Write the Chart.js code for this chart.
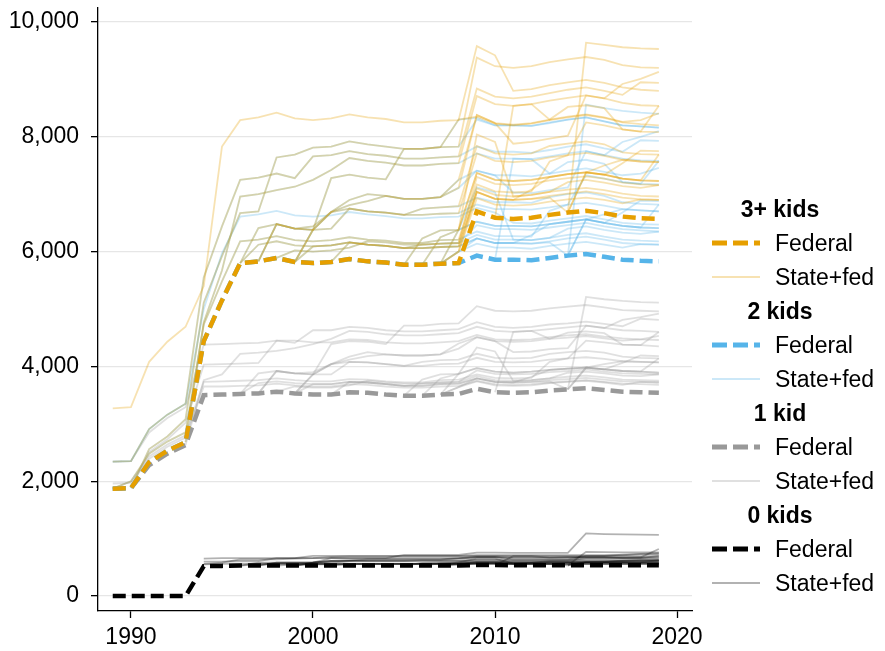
<!DOCTYPE html>
<html>
<head>
<meta charset="utf-8">
<script src="https://cdn.jsdelivr.net/npm/chart.js@4.4.1/dist/chart.umd.min.js"></script>
<style>
  body { margin: 0; background: #fff; }
  #wrap { position: relative; width: 885px; height: 651px; font-family: "Liberation Sans", Arial, Helvetica, sans-serif; }
  #chart { position: absolute; left: 0; top: 0; }
  .legend { position: absolute; left: 700px; top: 192px; width: 185px; }
  .row { height: 34px; display: flex; align-items: center; font-size: 23px; color: #000; }
  .head { justify-content: center; width: 160px; font-weight: bold; }
  .row svg { margin-left: 12px; margin-right: 15px; }
</style>
</head>
<body>
<div id="wrap">
  <canvas id="chart" width="885" height="651"></canvas>
  <div class="legend" id="legend"></div>
</div>
<script>
const _ = null;

const years = [1989,1990,1991,1992,1993,1994,1995,1996,1997,1998,1999,2000,2001,2002,2003,2004,
  2005,2006,2007,2008,2009,2010,2011,2012,2013,2014,2015,2016,2017,2018,2019];
const yTicks = [0, 2000, 4000, 6000, 8000, 10000];
const xTicks = [1990, 2000, 2010, 2020];

// federal max credit (2019 dollars)
const fed3 = [1870,1880,2330,2530,2680, 4440,5150,5800,5830,5890, 5820,5800,5820,5870,5830, 5810,5770,5770,5790,5800, 6700,6590,6570,6590,6640, 6680,6710,6670,6610,6580, 6570];
const fed2 = [1870,1880,2330,2530,2680, 4440,5150,5800,5830,5890, 5820,5800,5820,5870,5830, 5810,5770,5770,5790,5800, 5930,5860,5860,5850,5890, 5930,5960,5910,5860,5840, 5830];
const fed1 = [1870,1880,2280,2480,2630, 3500,3510,3520,3530,3560, 3530,3510,3510,3550,3540, 3510,3490,3490,3510,3520, 3610,3550,3540,3550,3580, 3600,3620,3590,3560,3550, 3540];
const fed0 = [0,0,0,0,0, 520,525,530,530,530, 530,530,530,530,530, 530,530,530,530,530, 540,540,535,535,535, 535,535,535,535,535, 535];

const states = ['WI','VT','MN','NY','MA','KS','DC','NJ','IA','OR','IN','IL','NE','MI','NM','CT','CO','LA','NC','RI','OK','MD','CA'];

// state + federal, 3+ kids
const state3 = [
  [3270,3290,4080,4430,4690, 5400,7830,8290,8340,8420, 8320,8290,8320,8390,8340, 8310,8250,8250,8280,8290, 9580,9420,8800,8830,8900, 8950,8990,8940,8860,8820, 8800],
  [2340,2350,2910,3160,3350, 5550,6440,7250,7290,7360, 7280,7660,7680,7750,7700, 7670,7620,7620,7640,7660, 8840,8700,8670,8700,8760, 8820,8860,8800,8730,8950, 8940],
  [_,1880,2560,2780,3080, 5110,5920,6670,6700,7640, 7690,7810,7830,7920,7870, 7830,7790,7790,7820,8300, 8350,8230,8200,8230,8290, 8340,8380,8330,8250,8220, 8200],
  [_,_,_,_,2680, 4770,5670,6960,7000,7070, 7130,7250,7420,7630,7580, 7550,7500,7500,7530,7540, 8710,8570,8540,8570,8630, 8680,8720,8670,8590,8550, 8540],
  [_,_,_,_,_, _,_,5800,6410,6480, 6400,6380,6690,6750,6700, 6680,6640,6640,6660,6670, 7710,7580,7560,7580,7640, 7680,8250,8200,8130,8090, 8540],
  [_,_,_,_,_, _,_,_,5830,6480, 6400,6380,6400,6750,6700, 6680,6640,6750,6770,6790, 7840,7710,7690,7710,7840, 7880,7920,7870,7730,7700, 7690],
  [_,_,_,_,_, _,_,_,_,_, 5820,6380,7280,7340,7290, 7260,7790,7790,7820,7830, 9380,9230,9200,9230,9300, 9350,9390,9340,9250,9210, 9200],
  [_,_,_,_,_, _,_,_,_,_, 5820,6380,6690,6900,7000, 6970,6920,6920,6950,7110, 8380,8240,7880,7910,7970, 8020,8720,8670,8920,9010, 9130],
  [1870,2000,2480,2690,2850, 4730,5480,6180,6210,6270, 6200,6180,6200,6250,6210, 6190,6150,6150,6200,6210, 7170,7050,7030,7050,7570, 7680,7720,7670,7600,7570, 7560],
  [_,_,_,_,_, _,_,5800,6120,6180, 6110,6090,6110,6160,6120, 6100,6060,6120,6140,6150, 7100,6990,6960,6990,7040, 7210,7250,7200,7140,7110, 7160],
  [_,_,_,_,_, _,_,_,_,5890, 6020,6000,6020,6070,6180, 6160,6120,6120,6140,6150, 7300,7180,7160,7180,7240, 7280,7310,7270,7200,7170, 7160],
  [_,_,_,_,_, _,_,_,_,_, 5820,6090,6110,6160,6120, 6100,6060,6060,6080,6090, 7040,6920,6900,7080,7300, 7350,7380,7340,7540,7760, 7750],
  [_,_,_,_,_, _,_,_,_,_, _,_,_,_,_, _,5770,6230,6370,6380, 7370,7250,7230,7250,7300, 7350,7380,7340,7270,7240, 7230],
  [_,_,_,_,_, _,_,_,_,_, _,_,_,_,_, _,_,_,5790,6380, 8040,7910,6960,6990,7040, 7080,7110,7070,7010,6970, 6960],
  [_,_,_,_,_, _,_,_,_,_, _,_,_,_,_, _,_,5770,6250,6380, 7370,7250,7230,7250,7300, 7350,7380,7340,7270,7240, 7690],
  [_,_,_,_,_, _,_,_,_,_, _,_,_,_,_, _,_,_,_,_, _,6590,8540,8570,8300, 8520,8550,8500,8130,8090, 8080],
  [_,_,_,_,_, _,_,_,_,_, _,_,_,_,_, _,_,_,_,_, _,_,_,_,_, 6680,7380,7340,7270,7240, 7230],
  [_,_,_,_,_, _,_,_,_,_, _,_,_,_,_, _,_,_,5790,6000, 6930,6820,6800,6820,6870, 6910,6940,6900,6840,6910, 6900],
  [_,_,_,_,_, _,_,_,_,_, _,_,_,_,_, _,_,_,5790,6000, 7040,6920,6900,6920,6940, 6680,_,_,_,_, _],
  [_,_,_,_,_, _,_,_,_,_, _,_,_,_,_, _,_,_,_,_, _,_,_,_,_, 6680,7380,7500,7600,7570, 7560],
  [_,_,_,_,_, _,_,_,_,_, _,_,5820,6160,6120, 6100,6060,6060,6080,6090, 7040,6920,6900,6920,6970, 7010,7050,7000,6940,6910, 6900],
  [_,_,_,_,_, _,_,_,5830,6480, 6400,6440,6690,6810,6880, 6970,6920,6920,6950,7250, 8380,8240,8210,8240,8300, 8350,8390,8340,8260,8290, 8410],
  [_,_,_,_,_, _,_,_,_,_, _,_,_,_,_, _,_,_,_,_, _,_,_,_,_, 6680,9640,9600,9560,9540, 9530]
];

// state + federal, 2 kids
const state2 = [
  [2340,2350,2910,3160,3350, 5000,5970,6610,6650,6710, 6630,6610,6630,6690,6650, 6620,6580,6580,6600,6610, 6760,6680,6500,6490,6540, 6580,6620,6560,6500,6480, 6470],
  [2340,2350,2910,3160,3350, 5550,6440,7250,7290,7360, 7280,7660,7680,7750,7700, 7670,7620,7620,7640,7660, 7830,7740,7740,7720,7770, 7830,7870,7800,7740,7940, 7930],
  [_,1880,2560,2780,3080, 5110,5920,6670,6700,7640, 7690,7810,7830,7920,7870, 7830,7790,7790,7820,8300, 8330,8200,8200,8190,8240, 8300,8340,8270,8200,8180, 8160],
  [_,_,_,_,2680, 4770,5670,6960,7000,7070, 7130,7250,7420,7630,7580, 7550,7500,7500,7530,7540, 7710,7620,7620,7610,7660, 7710,7750,7680,7620,7590, 7580],
  [_,_,_,_,_, _,_,5800,6410,6480, 6400,6380,6690,6750,6700, 6680,6640,6640,6660,6670, 6820,6740,6740,6730,6770, 6820,7330,7270,7210,7180, 7580],
  [_,_,_,_,_, _,_,_,5830,6480, 6400,6380,6400,6750,6700, 6680,6640,6750,6770,6790, 6940,6860,6860,6850,6950, 7000,7030,6970,6860,6830, 6820],
  [_,_,_,_,_, _,_,_,_,_, 5820,6380,7280,7340,7290, 7260,7790,7790,7820,7830, 8300,8200,8200,8190,8250, 8300,8340,8270,8200,8180, 8160],
  [_,_,_,_,_, _,_,_,_,_, 5820,6380,6690,6900,7000, 6970,6920,6920,6950,7110, 7410,7330,7030,7020,7070, 7120,7750,7680,7910,8000, 8100],
  [1870,2000,2480,2690,2850, 4730,5480,6180,6210,6270, 6200,6180,6200,6250,6210, 6190,6150,6150,6200,6210, 6350,6270,6270,6260,6710, 6820,6850,6800,6740,6720, 6700],
  [_,_,_,_,_, _,_,5800,6120,6180, 6110,6090,6110,6160,6120, 6100,6060,6120,6140,6150, 6290,6210,6210,6200,6240, 6400,6440,6380,6330,6310, 6350],
  [_,_,_,_,_, _,_,_,_,5890, 6020,6000,6020,6070,6180, 6160,6120,6120,6140,6150, 6460,6390,6390,6380,6420, 6460,6500,6440,6390,6370, 6350],
  [_,_,_,_,_, _,_,_,_,_, 5820,6090,6110,6160,6120, 6100,6060,6060,6080,6090, 6230,6150,6150,6290,6480, 6520,6560,6500,6680,6890, 6880],
  [_,_,_,_,_, _,_,_,_,_, _,_,_,_,_, _,5770,6230,6370,6380, 6520,6450,6450,6440,6480, 6520,6560,6500,6450,6420, 6410],
  [_,_,_,_,_, _,_,_,_,_, _,_,_,_,_, _,_,_,5790,6380, 7120,7030,6210,6200,6240, 6290,6320,6260,6210,6190, 6180],
  [_,_,_,_,_, _,_,_,_,_, _,_,_,_,_, _,_,5770,6250,6380, 6520,6450,6450,6440,6480, 6520,6560,6500,6450,6420, 6820],
  [_,_,_,_,_, _,_,_,_,_, _,_,_,_,_, _,_,_,_,_, _,5860,7620,7610,7360, 7560,7600,7530,7210,7180, 7170],
  [_,_,_,_,_, _,_,_,_,_, _,_,_,_,_, _,_,_,_,_, _,_,_,_,_, 5930,6560,6500,6450,6420, 6410],
  [_,_,_,_,_, _,_,_,_,_, _,_,_,_,_, _,_,_,5790,6000, 6140,6070,6070,6050,6100, 6140,6170,6120,6070,6130, 6120],
  [_,_,_,_,_, _,_,_,_,_, _,_,_,_,_, _,_,_,5790,6000, 6230,6150,6150,6140,6160, 5930,_,_,_,_, _],
  [_,_,_,_,_, _,_,_,_,_, _,_,_,_,_, _,_,_,_,_, _,_,_,_,_, 5930,6560,6650,6740,6720, 6700],
  [_,_,_,_,_, _,_,_,_,_, _,_,5820,6160,6120, 6100,6060,6060,6080,6090, 6230,6150,6150,6140,6180, 6230,6260,6210,6150,6130, 6120],
  [_,_,_,_,_, _,_,_,5830,6480, 6400,6440,6690,6810,6880, 6970,6920,6920,6950,7250, 7410,7330,7330,7310,7360, 7410,7450,7390,7330,7360, 7460],
  [_,_,_,_,_, _,_,_,_,_, _,_,_,_,_, _,_,_,_,_, _,_,_,_,_, 5930,8560,8500,8450,8420, 8400]
];

// state + federal, 1 kid
const state1 = [
  [1960,1970,2390,2600,2760, 3650,3650,3660,3670,3700, 3670,3650,3650,3690,3680, 3650,3630,3630,3650,3660, 3750,3690,3680,3690,3720, 3740,3760,3730,3700,3690, 3680],
  [2340,2350,2850,3100,3290, 4380,4390,4400,4410,4450, 4410,4630,4630,4690,4670, 4630,4610,4610,4630,4650, 4770,4690,4670,4690,4730, 4750,4780,4740,4700,4830, 4810],
  [_,1880,2510,2730,3020, 4030,4040,4050,4060,4450, 4450,4420,4420,4470,4460, 4420,4400,4400,4420,4440, 4550,4470,4460,4470,4510, 4540,4560,4520,4490,4470, 4460],
  [_,_,_,_,2630, 3760,3860,4220,4240,4270, 4320,4390,4480,4620,4600, 4560,4540,4540,4560,4580, 4690,4620,4600,4620,4650, 4680,4710,4670,4630,4620, 4600],
  [_,_,_,_,_, _,_,3520,3880,3920, 3880,3860,4040,4080,4070, 4040,4010,4010,4040,4050, 4150,4080,4070,4080,4120, 4140,4450,4420,4380,4370, 4600],
  [_,_,_,_,_, _,_,_,3530,3920, 3880,3860,3860,4080,4070, 4040,4010,4080,4110,4120, 4220,4150,4140,4150,4220, 4250,4270,4240,4170,4150, 4140],
  [_,_,_,_,_, _,_,_,_,_, 3530,3860,4390,4440,4430, 4390,4710,4710,4740,4750, 5050,4970,4960,4970,5010, 5040,5070,5030,4980,4970, 4960],
  [_,_,_,_,_, _,_,_,_,_, 3530,3860,4040,4170,4250, 4210,4190,4190,4210,4310, 4510,4440,4250,4260,4300, 4320,4710,4670,4810,4860, 4920],
  [1870,2000,2430,2640,2800, 3730,3740,3750,3760,3790, 3760,3740,3740,3780,3770, 3740,3720,3720,3760,3770, 3860,3800,3790,3800,4080, 4140,4160,4130,4090,4080, 4070],
  [_,_,_,_,_, _,_,3520,3710,3740, 3710,3690,3690,3730,3720, 3690,3660,3700,3720,3730, 3830,3760,3750,3760,3790, 3890,3910,3880,3840,3830, 3860],
  [_,_,_,_,_, _,_,_,_,3560, 3650,3630,3630,3670,3750, 3720,3700,3700,3720,3730, 3930,3870,3860,3870,3900, 3920,3950,3910,3880,3870, 3860],
  [_,_,_,_,_, _,_,_,_,_, 3530,3690,3690,3730,3720, 3690,3660,3660,3690,3700, 3790,3730,3720,3820,3940, 3960,3980,3950,4060,4190, 4180],
  [_,_,_,_,_, _,_,_,_,_, _,_,_,_,_, _,3490,3770,3860,3870, 3970,3910,3890,3910,3940, 3960,3980,3950,3920,3910, 3890],
  [_,_,_,_,_, _,_,_,_,_, _,_,_,_,_, _,_,_,3510,3870, 4330,4260,3750,3760,3790, 3820,3840,3810,3770,3760, 3750],
  [_,_,_,_,_, _,_,_,_,_, _,_,_,_,_, _,_,3490,3790,3870, 3970,3910,3890,3910,3940, 3960,3980,3950,3920,3910, 4140],
  [_,_,_,_,_, _,_,_,_,_, _,_,_,_,_, _,_,_,_,_, _,3550,4600,4620,4480, 4590,4610,4580,4380,4370, 4350],
  [_,_,_,_,_, _,_,_,_,_, _,_,_,_,_, _,_,_,_,_, _,_,_,_,_, 3600,3980,3950,3920,3910, 3890],
  [_,_,_,_,_, _,_,_,_,_, _,_,_,_,_, _,_,_,3510,3640, 3740,3670,3660,3670,3710, 3730,3750,3720,3680,3730, 3720],
  [_,_,_,_,_, _,_,_,_,_, _,_,_,_,_, _,_,_,3510,3640, 3790,3730,3720,3730,3740, 3600,_,_,_,_, _],
  [_,_,_,_,_, _,_,_,_,_, _,_,_,_,_, _,_,_,_,_, _,_,_,_,_, 3600,3980,4040,4090,4080, 4070],
  [_,_,_,_,_, _,_,_,_,_, _,_,3510,3730,3720, 3690,3660,3660,3690,3700, 3790,3730,3720,3730,3760, 3780,3800,3770,3740,3730, 3720],
  [_,_,_,_,_, _,_,_,3530,3920, 3880,3900,4040,4120,4180, 4210,4190,4190,4210,4400, 4510,4440,4430,4440,4480, 4500,4530,4490,4450,4470, 4530],
  [_,_,_,_,_, _,_,_,_,_, _,_,_,_,_, _,_,_,_,_, _,_,_,_,_, 3600,5210,5170,5140,5120, 5110]
];

// state + federal, 0 kids
const state0 = [
  [_,_,_,_,_, _,_,_,_,_, _,_,_,_,_, _,_,_,_,_, _,_,_,_,_, _,_,_,_,_, _],
  [_,_,_,_,_, 650,660,660,660,660, 660,700,700,700,700, 700,700,700,700,700, 710,710,710,710,710, 710,710,710,710,730, 730],
  [_,_,_,_,_, 600,600,610,610,660, 660,660,660,660,660, 660,660,660,660,660, 680,680,670,670,670, 670,670,670,670,670, 670],
  [_,_,_,_,_, 560,580,640,640,640, 650,660,680,690,690, 690,690,690,690,690, 700,700,695,695,695, 695,695,695,695,695, 695],
  [_,_,_,_,_, _,_,530,580,580, 580,580,610,610,610, 610,610,610,610,610, 620,620,615,615,615, 615,660,660,660,660, 700],
  [_,_,_,_,_, _,_,_,530,580, 580,580,580,610,610, 610,610,620,620,620, 630,630,625,625,630, 630,630,630,625,625, 625],
  [_,_,_,_,_, _,_,_,_,_, 530,580,660,660,660, 660,715,715,715,715, 755,755,750,750,750, 750,1090,1080,1075,1070, 1065],
  [_,_,_,_,_, _,_,_,_,_, 530,580,610,620,635, 635,635,635,635,650, 675,675,640,640,640, 640,700,700,720,735, 745],
  [_,_,_,_,_, 550,560,565,565,565, 565,565,565,565,565, 565,565,565,570,570, 580,580,575,575,610, 615,615,615,615,615, 615],
  [_,_,_,_,_, _,_,530,555,555, 555,555,555,555,555, 555,555,560,560,560, 570,570,565,565,565, 580,580,580,580,580, 585],
  [_,_,_,_,_, _,_,_,_,530, 550,550,550,550,560, 560,560,560,560,560, 590,590,585,585,585, 585,585,585,585,585, 585],
  [_,_,_,_,_, _,_,_,_,_, 530,560,560,560,560, 560,560,560,560,560, 570,570,560,575,590, 590,590,590,610,630, 630],
  [_,_,_,_,_, _,_,_,_,_, _,_,_,_,_, _,530,575,585,585, 595,595,590,590,590, 590,590,590,590,590, 590],
  [_,_,_,_,_, _,_,_,_,_, _,_,_,_,_, _,_,_,530,585, 650,650,565,565,565, 565,565,565,565,565, 565],
  [_,_,_,_,_, _,_,_,_,_, _,_,_,_,_, _,_,530,570,585, 595,595,590,590,590, 590,590,590,590,590, 625],
  [_,_,_,_,_, _,_,_,_,_, _,_,_,_,_, _,_,_,_,_, _,540,695,695,670, 680,680,680,660,660, 660],
  [_,_,_,_,_, _,_,_,_,_, _,_,_,_,_, _,_,_,_,_, _,_,_,_,_, 535,590,590,590,590, 590],
  [_,_,_,_,_, _,_,_,_,_, _,_,_,_,_, _,_,_,530,550, 560,560,555,555,555, 555,555,555,555,560, 560],
  [_,_,_,_,_, _,_,_,_,_, _,_,_,_,_, _,_,_,530,550, 565,565,560,560,560, 535,_,_,_,_, _],
  [_,_,_,_,_, _,_,_,_,_, _,_,_,_,_, _,_,_,_,_, _,_,_,_,_, 535,590,600,615,615, 615],
  [_,_,_,_,_, _,_,_,_,_, _,_,530,560,560, 560,560,560,560,560, 570,570,560,560,560, 560,560,560,560,560, 560],
  [_,_,_,_,_, _,_,_,530,580, 580,585,610,620,635, 640,640,640,640,660, 675,675,670,670,670, 670,670,670,670,675, 820],
  [_,_,_,_,_, _,_,_,_,_, _,_,_,_,_, _,_,_,_,_, _,_,_,_,_, 535,770,765,760,760, 760]
];

const groups = [
  { title: '3+ kids', fed: fed3, rows: state3, color: '#E69F00', light: 'rgba(230,159,0,0.3)' },
  { title: '2 kids', fed: fed2, rows: state2, color: '#56B4E9', light: 'rgba(86,180,233,0.3)' },
  { title: '1 kid', fed: fed1, rows: state1, color: '#999999', light: 'rgba(153,153,153,0.3)' },
  { title: '0 kids', fed: fed0, rows: state0, color: '#000000', light: 'rgba(0,0,0,0.3)' }
];

function pts(vals) {
  return years.map((yr, i) => ({ x: yr, y: vals[i] }));
}

const datasets = [];
groups.forEach(g => {
  datasets.push({
    label: g.title + ' Federal', data: pts(g.fed), borderColor: g.color,
    borderWidth: 4.5, borderDash: [13, 6], order: 0
  });
});
groups.forEach((g, gi) => {
  g.rows.forEach((row, i) => {
    datasets.push({
      label: g.title + ' ' + states[i], data: pts(row), borderColor: g.light,
      borderWidth: 1.8, order: gi + 1
    });
  });
});

const fontFam = '"Liberation Sans", Arial, Helvetica, sans-serif';

new Chart(document.getElementById('chart'), {
  type: 'line',
  data: { datasets: datasets },
  options: {
    responsive: false,
    animation: false,
    devicePixelRatio: 1,
    spanGaps: false,
    elements: { point: { radius: 0 }, line: { tension: 0, borderCapStyle: 'butt' } },
    layout: { padding: { top: 8, right: 193, left: 0, bottom: 0 } },
    plugins: { legend: { display: false }, tooltip: { enabled: false } },
    scales: {
      x: {
        type: 'linear', min: 1988.19, max: 2020.82,
        afterBuildTicks: s => { s.ticks = xTicks.map(v => ({ value: v })); },
        afterFit: s => { s.height = 40; s.paddingLeft = 0; s.paddingRight = 0; },
        grid: { drawOnChartArea: false, tickLength: 7, tickColor: '#000', tickWidth: 1.3 },
        border: { color: '#000', width: 1.3 },
        ticks: { color: '#000', padding: 6, font: { size: 23, family: fontFam }, callback: v => String(v) }
      },
      y: {
        type: 'linear', min: -261, max: 10244,
        afterBuildTicks: s => { s.ticks = yTicks.map(v => ({ value: v })); },
        afterFit: s => { s.width = 98; s.paddingTop = 0; s.paddingBottom = 0; },
        grid: { color: '#e6e6e6', lineWidth: 1.3, tickLength: 7, tickColor: '#000', tickWidth: 1.3 },
        border: { color: '#000', width: 1.3 },
        ticks: { color: '#000', padding: 12, font: { size: 23, family: fontFam }, callback: v => v.toLocaleString('en-US') }
      }
    }
  }
});

// legend
const legend = document.getElementById('legend');
function sample(color, width, dash) {
  return '<svg width="48" height="10"><line x1="0" y1="5" x2="48" y2="5" stroke="' + color +
    '" stroke-width="' + width + '"' + (dash ? ' stroke-dasharray="15 6"' : '') + '/></svg>';
}
groups.forEach(g => {
  legend.insertAdjacentHTML('beforeend',
    '<div class="row head">' + g.title + '</div>' +
    '<div class="row">' + sample(g.color, 5, true) + '<span>Federal</span></div>' +
    '<div class="row">' + sample(g.light, 2, false) + '<span>State+fed</span></div>');
});
</script>
</body>
</html>
